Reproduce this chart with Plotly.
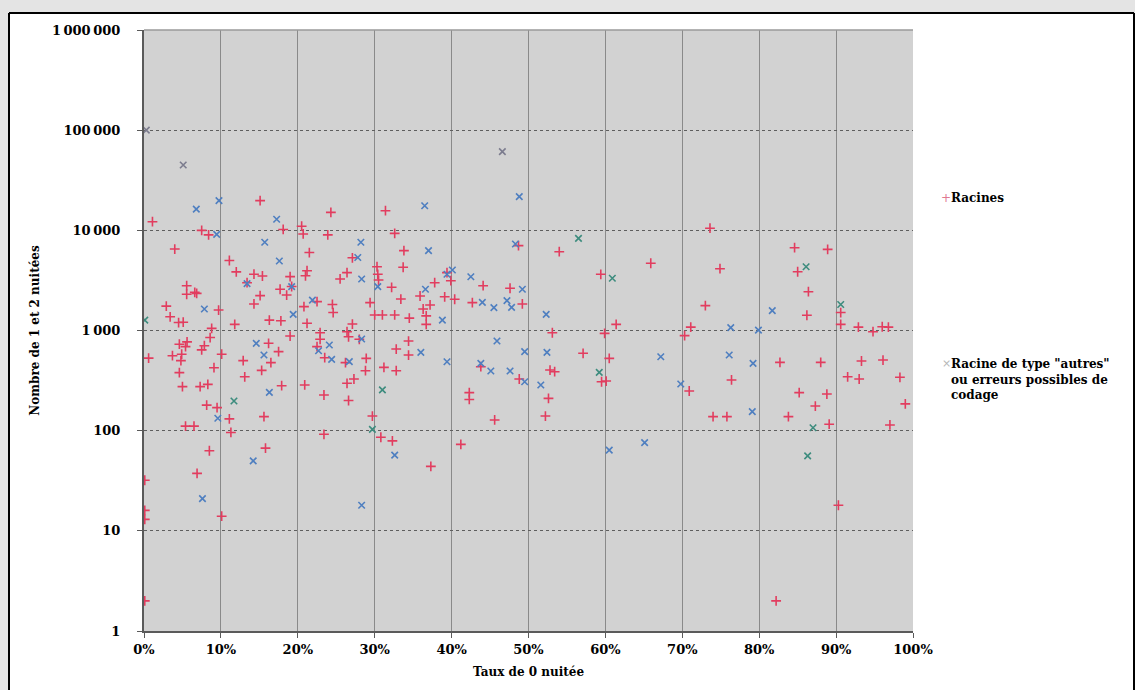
import plotly.graph_objects as go

# ---- Data -------------------------------------------------------------
# Racines : taux de 0 nuitée (fraction) et nombre de 1 et 2 nuitées
racines_x = [
    0.001, 0.001, 0.001, 0.001, 0.006, 0.011, 0.075, 0.084, 0.040, 0.111,
    0.120, 0.0555, 0.0555, 0.066, 0.0685, 0.097, 0.029, 0.034, 0.045, 0.051,
    0.088, 0.118, 0.143, 0.154, 0.134, 0.151, 0.143, 0.151, 0.181, 0.190,
    0.177, 0.1855, 0.163, 0.178, 0.205, 0.207, 0.243, 0.239, 0.215, 0.212,
    0.210, 0.255, 0.264, 0.271, 0.208, 0.212, 0.225, 0.245, 0.246, 0.271,
    0.294, 0.300, 0.310, 0.326, 0.303, 0.304, 0.305, 0.314, 0.326, 0.322,
    0.192, 0.046, 0.056, 0.054, 0.037, 0.049, 0.048, 0.0785, 0.075, 0.086,
    0.101, 0.046, 0.050, 0.073, 0.083, 0.091, 0.0815, 0.095, 0.129, 0.131,
    0.153, 0.162, 0.165, 0.175, 0.190, 0.179, 0.209, 0.234, 0.229, 0.229,
    0.225, 0.235, 0.264, 0.266, 0.280, 0.262, 0.273, 0.264, 0.266, 0.289,
    0.288, 0.312, 0.328, 0.328, 0.054, 0.065, 0.111, 0.113, 0.085, 0.156,
    0.158, 0.069, 0.101, 0.234, 0.297, 0.308, 0.323, 0.338, 0.337, 0.378,
    0.399, 0.394, 0.334, 0.359, 0.372, 0.363, 0.367, 0.367, 0.345, 0.391,
    0.404, 0.427, 0.441, 0.476, 0.492, 0.487, 0.540, 0.594, 0.659, 0.614,
    0.531, 0.599, 0.344, 0.344, 0.438, 0.528, 0.534, 0.571, 0.605, 0.595,
    0.601, 0.488, 0.526, 0.423, 0.423, 0.456, 0.522, 0.412, 0.373, 0.736,
    0.749, 0.730, 0.711, 0.703, 0.764, 0.709, 0.846, 0.889, 0.850, 0.864,
    0.862, 0.906, 0.906, 0.929, 0.948, 0.960, 0.968, 0.827, 0.880, 0.933,
    0.961, 0.915, 0.930, 0.983, 0.990, 0.852, 0.888, 0.873, 0.740, 0.758,
    0.838, 0.891, 0.903, 0.822, 0.970,
]
racines_y = [
    32, 16, 13, 2, 530, 12200, 10000, 9000, 6500, 5000,
    3850, 2800, 2300, 2400, 2350, 1600, 1750, 1370, 1200, 1210,
    1050, 1150, 3650, 3500, 3000, 2230, 1840, 19800, 10200, 3450,
    2580, 2260, 1270, 1250, 11000, 9200, 15100, 9000, 6000, 3950,
    3520, 3270, 3780, 5320, 1730, 1180, 1940, 1820, 1510, 1160,
    1900, 1430, 1430, 1430, 4330, 3640, 3190, 15700, 9330, 2700,
    2750, 730, 770, 690, 560, 580, 500, 705, 640, 850,
    580, 380, 275, 275, 290, 425, 180, 170, 500, 345,
    400, 745, 478, 616, 880, 281, 286, 227, 950, 817,
    690, 535, 973, 866, 817, 478, 328, 297, 200, 527,
    397, 428, 397, 653, 111, 111, 131, 96, 63, 138,
    67, 37.5, 14, 92, 140, 86, 79, 6270, 4280, 3000,
    3140, 3780, 2060, 2210, 1800, 1640, 1400, 1150, 1330, 2170,
    2050, 1900, 2800, 2640, 1840, 7030, 6120, 3640, 4690, 1150,
    950, 937, 785, 569, 435, 403, 388, 592, 527, 308,
    313, 328, 210, 240, 205, 128, 140, 73, 44, 10500,
    4140, 1770, 1080, 888, 321, 249, 6710, 6460, 3860, 2440,
    1420, 1510, 1150, 1080, 973, 1090, 1080, 481, 481, 496,
    507, 345, 328, 341, 185, 240, 232, 176, 138, 138,
    138, 116, 18, 2, 114,
]

# Racines de type "autres" ou erreurs possibles de codage
autres_bleu_x = [
    0.068, 0.0975, 0.0945, 0.1725, 0.157, 0.176, 0.134, 0.192, 0.282, 0.278,
    0.283, 0.0785, 0.194, 0.219, 0.146, 0.156, 0.163, 0.227, 0.241, 0.244,
    0.283, 0.267, 0.096, 0.142, 0.076, 0.326, 0.283, 0.365, 0.488, 0.483,
    0.370, 0.425, 0.366, 0.492, 0.440, 0.455, 0.472, 0.478, 0.388, 0.523,
    0.394, 0.401, 0.304, 0.459, 0.360, 0.394, 0.495, 0.524, 0.451, 0.476,
    0.495, 0.516, 0.438, 0.605, 0.651, 0.817, 0.763, 0.799, 0.672, 0.761,
    0.792, 0.698, 0.791,
]
autres_bleu_y = [
    16300, 19800, 9100, 12900, 7600, 4940, 2940, 2740, 7600, 5350,
    3270, 1640, 1450, 2010, 745, 569, 241, 628, 716, 515,
    822, 489, 133, 50, 21, 57, 18, 17600, 21700, 7300,
    6270, 3440, 2580, 2580, 1910, 1690, 1990, 1700, 1270, 1450,
    3640, 4020, 2740, 785, 605, 488, 616, 605, 394, 394,
    308, 286, 470, 64, 76, 1580, 1070, 1010, 547, 569,
    470, 292, 155,
]
autres_vert_x = [0.001, 0.117, 0.297, 0.310, 0.565, 0.609, 0.592, 0.861, 0.863, 0.870, 0.906]
autres_vert_y = [1270, 198, 103, 255, 8300, 3320, 382, 4330, 56, 107, 1820]
autres_gris_x = [0.003, 0.051, 0.466]
autres_gris_y = [100000, 44900, 61000]

# Axis ticks (thousands separated by a thin space)
y_tickvals = [1, 10, 100, 1000, 10000, 100000, 1000000]
y_ticktext = ["1", "10", "100", "1\u2009000", "10\u2009000", "100\u2009000", "1\u2009000\u2009000"]
x_tickvals = [0, 0.1, 0.2, 0.3, 0.4, 0.5, 0.6, 0.7, 0.8, 0.9, 1.0]

# ---- Layout geometry (pixels) ----------------------------------------
W, H = 1135, 690
ML, MR, MT, MB = 144, 222, 30, 59
PW, PH = W - ML - MR, H - MT - MB


def px_x(p):
    return (p - ML) / PW


def px_y(p):
    return (H - MB - p) / PH


FONT = "DejaVu Serif"
RED = "#e23d5f"
BLUE = "#4f7fc0"
TEAL = "#3d8c7e"
GREY = "#7c7c8e"

fig = go.Figure()

fig.add_trace(go.Scatter(
    x=racines_x, y=racines_y, mode="markers", name="Racines",
    marker=dict(symbol="cross-thin", size=7, line=dict(color=RED, width=1.6)),
))
for xs, ys, col in [(autres_bleu_x, autres_bleu_y, BLUE),
                    (autres_vert_x, autres_vert_y, TEAL),
                    (autres_gris_x, autres_gris_y, GREY)]:
    fig.add_trace(go.Scatter(
        x=xs, y=ys, mode="markers",
        name='Racine de type "autres" ou erreurs possibles de codage',
        legendgroup="autres",
        marker=dict(symbol="x-thin", size=6.5, line=dict(color=col, width=1.6)),
    ))

tick_font = dict(family=FONT, size=13, color="#000000", weight="bold")

fig.update_xaxes(
    range=[0, 1], tickvals=x_tickvals, tickformat=".0%",
    showgrid=True, gridcolor="#8a8a8a", gridwidth=1,
    showline=True, linecolor="#5a5a5a", linewidth=2,
    ticks="outside", ticklen=5, tickcolor="#5a5a5a",
    tickfont=tick_font, zeroline=False,
    title=dict(text="Taux de 0 nuitée", font=dict(family=FONT, size=12, color="#000", weight="bold"),
               standoff=12),
)
fig.update_yaxes(
    type="log", range=[0, 6], tickvals=y_tickvals, ticktext=y_ticktext,
    showgrid=True, gridcolor="#5e5e5e", gridwidth=1, griddash="3px,3px",
    showline=True, linecolor="#5a5a5a", linewidth=2,
    ticks="outside", ticklen=5, tickcolor="#5a5a5a",
    tickfont=tick_font, zeroline=False, ticklabelstandoff=14,
    title=dict(text="Nombre de 1 et 2 nuitées", font=dict(family=FONT, size=12, color="#000", weight="bold"),
               standoff=10),
)

shapes = [
    # light grey band around the framed chart
    dict(type="rect", xref="paper", yref="paper", x0=px_x(0), x1=px_x(W), y0=px_y(13), y1=px_y(0),
         fillcolor="#e4e4e4", line=dict(width=0), layer="below"),
    dict(type="rect", xref="paper", yref="paper", x0=px_x(0), x1=px_x(9), y0=px_y(H), y1=px_y(0),
         fillcolor="#e4e4e4", line=dict(width=0), layer="below"),
    # chart frame
    dict(type="line", xref="paper", yref="paper", x0=px_x(9), x1=px_x(1134), y0=px_y(13), y1=px_y(13),
         line=dict(color="#000000", width=2)),
    dict(type="line", xref="paper", yref="paper", x0=px_x(9), x1=px_x(9), y0=px_y(13), y1=px_y(H),
         line=dict(color="#000000", width=2)),
    dict(type="line", xref="paper", yref="paper", x0=px_x(1134), x1=px_x(1134), y0=px_y(13), y1=px_y(H),
         line=dict(color="#000000", width=2)),
    # top edge of the plot area
    dict(type="line", xref="paper", yref="paper", x0=0, x1=1, y0=1, y1=1,
         line=dict(color="#9a9a9a", width=1.5)),
]

legend_font = dict(family=FONT, size=12, color="#000000", weight="bold")
annotations = [
    dict(xref="paper", yref="paper", x=px_x(946), y=px_y(198), text="+", showarrow=False,
         xanchor="center", yanchor="middle", font=dict(family=FONT, size=12, color="#e07890")),
    dict(xref="paper", yref="paper", x=px_x(949), y=px_y(198), text="Racines", showarrow=False,
         xanchor="left", yanchor="middle", font=legend_font),
    dict(xref="paper", yref="paper", x=px_x(946), y=px_y(364), text="×", showarrow=False,
         xanchor="center", yanchor="middle", font=dict(family=FONT, size=11, color="#b4b4b4")),
    dict(xref="paper", yref="paper", x=px_x(949), y=px_y(355),
         text='Racine de type "autres"<br>ou erreurs possibles de<br>codage', showarrow=False,
         xanchor="left", yanchor="top", align="left", font=legend_font),
]

fig.update_layout(
    width=W, height=H, autosize=False,
    margin=dict(l=ML, r=MR, t=MT, b=MB, autoexpand=False),
    paper_bgcolor="#ffffff", plot_bgcolor="#d2d2d2",
    showlegend=False, shapes=shapes, annotations=annotations,
    font=dict(family=FONT),
)

fig.write_html("out.html")
